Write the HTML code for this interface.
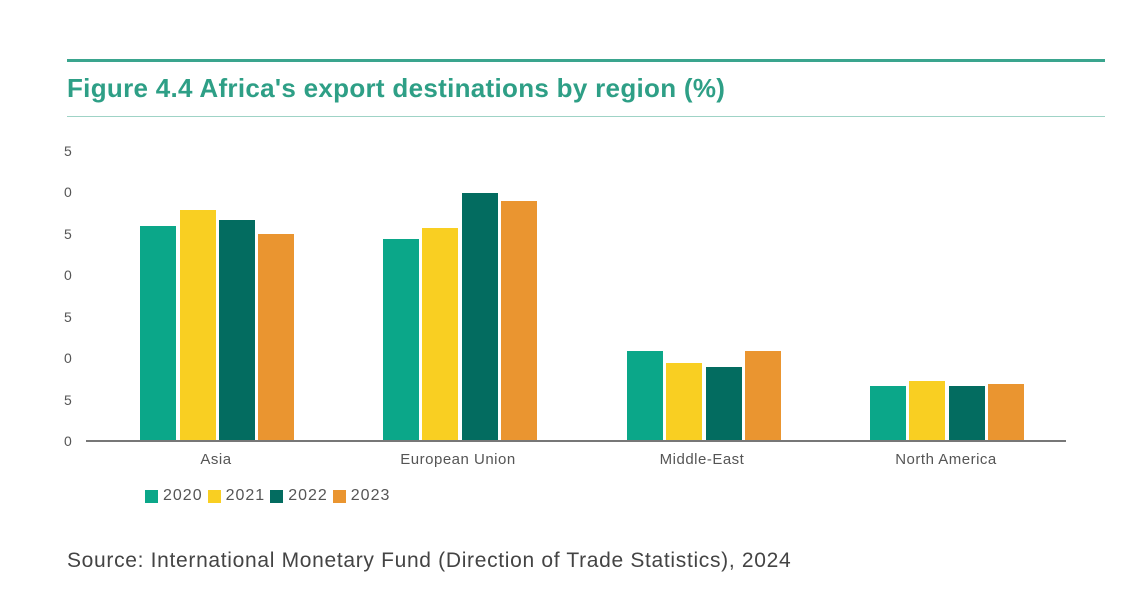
<!DOCTYPE html>
<html><head><style>
body{margin:0;width:1127px;height:602px;background:#fff;position:relative;overflow:hidden;font-family:"Liberation Sans",sans-serif}
.a{position:absolute}
.yl{position:absolute;left:64px;width:20px;font-size:14px;color:#555;line-height:14px}
.b{position:absolute;width:36px}
.c1{background:#0ba789}.c2{background:#f9cf22}.c3{background:#036c60}.c4{background:#ea9530}
.xl{position:absolute;top:451px;font-size:15px;color:#555;transform:translateX(-50%);white-space:nowrap;letter-spacing:0.5px}
.lg{position:absolute;top:487px;font-size:16px;color:#555;display:flex;align-items:center;letter-spacing:1px}
.lg span{display:inline-block;width:13px;height:13px;margin-right:5px;margin-left:5px}
</style></head><body>
<div class="a" style="left:67px;top:59px;width:1038px;height:3px;background:#3aa58e"></div>
<div class="a" style="left:67px;top:73px;font-size:26px;font-weight:bold;color:#2e9f86;letter-spacing:0.3px">Figure 4.4 Africa's export destinations by region (%)</div>
<div class="a" style="left:67px;top:116px;width:1038px;height:1px;background:#9fd3c6"></div>
<div class="yl" style="top:144px">5</div>
<div class="yl" style="top:185px">0</div>
<div class="yl" style="top:227px">5</div>
<div class="yl" style="top:268px">0</div>
<div class="yl" style="top:310px">5</div>
<div class="yl" style="top:351px">0</div>
<div class="yl" style="top:393px">5</div>
<div class="yl" style="top:434px">0</div>
<div class="a" style="left:86px;top:440px;width:980px;height:2px;background:#777"></div>
<div class="b c1" style="left:140px;top:226px;height:214px"></div>
<div class="b c2" style="left:180px;top:210px;height:230px"></div>
<div class="b c3" style="left:219px;top:220px;height:220px"></div>
<div class="b c4" style="left:258px;top:234px;height:206px"></div>
<div class="b c1" style="left:383px;top:239px;height:201px"></div>
<div class="b c2" style="left:422px;top:228px;height:212px"></div>
<div class="b c3" style="left:462px;top:193px;height:247px"></div>
<div class="b c4" style="left:501px;top:201px;height:239px"></div>
<div class="b c1" style="left:627px;top:351px;height:89px"></div>
<div class="b c2" style="left:666px;top:363px;height:77px"></div>
<div class="b c3" style="left:706px;top:367px;height:73px"></div>
<div class="b c4" style="left:745px;top:351px;height:89px"></div>
<div class="b c1" style="left:870px;top:386px;height:54px"></div>
<div class="b c2" style="left:909px;top:381px;height:59px"></div>
<div class="b c3" style="left:949px;top:386px;height:54px"></div>
<div class="b c4" style="left:988px;top:384px;height:56px"></div>
<div class="xl" style="left:216px">Asia</div>
<div class="xl" style="left:458px">European Union</div>
<div class="xl" style="left:702px">Middle-East</div>
<div class="xl" style="left:946px">North America</div>
<div class="lg" style="left:140px"><span class="c1"></span>2020<span class="c2"></span>2021<span class="c3"></span>2022<span class="c4"></span>2023</div>
<div class="a" style="left:67px;top:549px;font-size:21px;color:#444;letter-spacing:0.68px">Source: International Monetary Fund (Direction of Trade Statistics), 2024</div>
</body></html>
